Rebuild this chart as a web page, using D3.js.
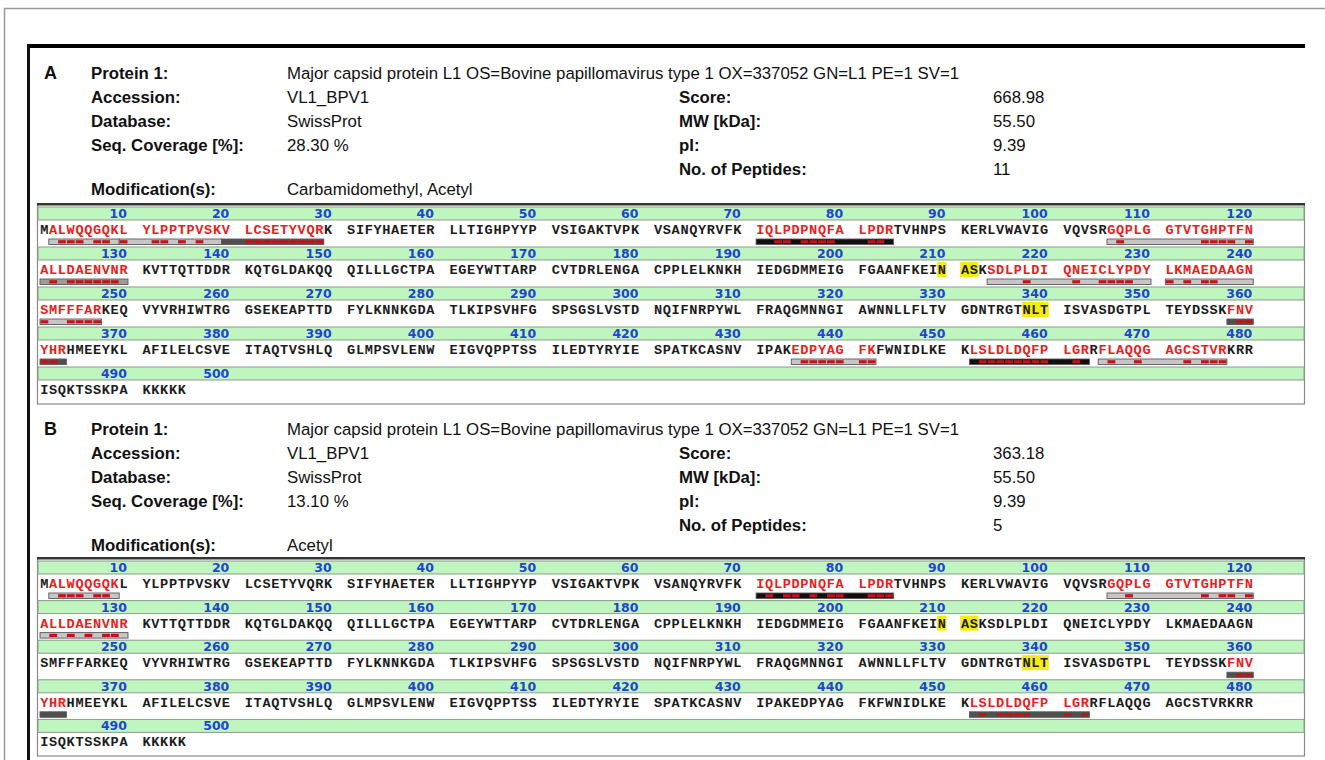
<!DOCTYPE html>
<html>
<head>
<meta charset="utf-8">
<script src="https://cdn.jsdelivr.net/npm/d3@7"></script>
<style>
  body { margin: 0; background: #fff; }
  svg { display: block; }
</style>
</head>
<body>
<script>
// sequence of the protein, in blocks of ten residues
var seqBlocks = [
  "MALWQQGQKL","YLPPTPVSKV","LCSETYVQRK","SIFYHAETER","LLTIGHPYYP","VSIGAKTVPK","VSANQYRVFK","IQLPDPNQFA","LPDRTVHNPS","KERLVWAVIG","VQVSRGQPLG","GTVTGHPTFN",
  "ALLDAENVNR","KVTTQTTDDR","KQTGLDAKQQ","QILLLGCTPA","EGEYWTTARP","CVTDRLENGA","CPPLELKNKH","IEDGDMMEIG","FGAANFKEIN","ASKSDLPLDI","QNEICLYPDY","LKMAEDAAGN",
  "SMFFFARKEQ","VYVRHIWTRG","GSEKEAPTTD","FYLKNNKGDA","TLKIPSVHFG","SPSGSLVSTD","NQIFNRPYWL","FRAQGMNNGI","AWNNLLFLTV","GDNTRGTNLT","ISVASDGTPL","TEYDSSKFNV",
  "YHRHMEEYKL","AFILELCSVE","ITAQTVSHLQ","GLMPSVLENW","EIGVQPPTSS","ILEDTYRYIE","SPATKCASNV","IPAKEDPYAG","FKFWNIDLKE","KLSLDLDQFP","LGRRFLAQQG","AGCSTVRKRR",
  "ISQKTSSKPA","KKKKK"
];
var sequence = seqBlocks.join("");
// position labels, one per block
var blockLabels = seqBlocks.map(function(b, k) { return (k + 1) * 10; });

// header values of the two panels
var panelNames = ["A", "B"];
var proteinName = "Major capsid protein L1 OS=Bovine papillomavirus type 1 OX=337052 GN=L1 PE=1 SV=1";
var accessions = ["VL1_BPV1", "VL1_BPV1"];
var databases = ["SwissProt", "SwissProt"];
var coverages = ["28.30 %", "13.10 %"];
var modifications = ["Carbamidomethyl, Acetyl", "Acetyl"];
var scores = ["668.98", "363.18"];
var weights = ["55.50", "55.50"];
var pIs = ["9.39", "9.39"];
var peptideCounts = ["11", "5"];

// highlighted motif residues (yellow)
var motifResidues = [210, 211, 212, 338, 339, 340];

// peptides found: [start, end, shade, residues with fragment marks]
var peptidesA = [
  [2, 9, "light", [3, 4, 5, 7, 8]],
  [10, 19, "light", [10, 12, 13, 15, 17]],
  [20, 29, "dark", [21, 22, 23, 24, 25, 26, 27, 28, 29]],
  [71, 84, "black", [73, 74, 76, 77, 78, 79, 82, 83]],
  [106, 120, "light", [107, 115, 116, 117, 118, 120]],
  [121, 130, "mid", [122, 124, 125, 126, 127, 128, 129]],
  [214, 230, "light", [218, 222, 225, 226, 227, 228]],
  [231, 240, "light", [231, 233, 235, 236]],
  [241, 247, "light", [241, 244, 245, 246, 247]],
  [358, 363, "dark", [359, 360, 361, 362]],
  [435, 442, "light", [436, 437, 438, 439, 440, 441, 442]],
  [452, 463, "black", [453, 454, 455, 456, 457, 458, 459, 460, 462]],
  [465, 477, "light", [466, 469, 473, 475, 476, 477]]
];
var peptidesB = [
  [2, 9, "light", [3, 4, 5, 7, 8]],
  [71, 84, "black", [72, 74, 75, 77, 79, 80, 82, 83, 84]],
  [106, 120, "light", [108, 115, 117, 118, 120]],
  [121, 130, "light", [122, 124, 126, 128, 129]],
  [358, 363, "dark", [359, 360]],
  [452, 463, "dark", [453, 455, 456, 457, 458, 461, 463]]
];

var shadeColor = { light: "#c6c6c6", mid: "#9c9c9c", dark: "#505050", black: "#101010" };

var width = 1325, height = 760;
var svg = d3.select("body").append("svg")
    .attr("width", width)
    .attr("height", height);

// figure frame
svg.append("rect").attr("x", 4.5).attr("y", 8.5).attr("width", 1330).attr("height", 760)
  .attr("fill", "none").attr("stroke", "#9a9a9a").attr("stroke-width", 1.5);
svg.append("rect").attr("x", 27).attr("y", 44).attr("width", 1278).attr("height", 4).attr("fill", "#000");
svg.append("rect").attr("x", 27).attr("y", 44).attr("width", 3).attr("height", 720).attr("fill", "#111");

var residuesPerRow = 120;
var nRows = Math.ceil(sequence.length / residuesPerRow);
var col = d3.scaleLinear().domain([0, 12]).range([40, 40 + 12 * 102.3]);
var charW = 8.8;

function resX(i) {
  var k = (i - 1) % residuesPerRow;
  return col(Math.floor(k / 10)) + (k % 10) * charW;
}
function resRow(i) { return Math.floor((i - 1) / residuesPerRow); }

function drawPanel(p, headTop, boxTop, pitch, peptides) {
  var g = svg.append("g");
  var lab = "'Liberation Sans', Arial, sans-serif";

  // header block
  var rowY = d3.scaleLinear().domain([0, 1]).range([headTop, headTop + 24]);
  g.append("text").attr("x", 44).attr("y", rowY(0)).text(panelNames[p])
    .attr("font-family", lab).attr("font-weight", "bold").attr("font-size", 18).attr("fill", "#111");

  var leftLabels = [["Protein 1:", proteinName, 0], ["Accession:", accessions[p], 1], ["Database:", databases[p], 2],
    ["Seq. Coverage [%]:", coverages[p], 3], ["Modification(s):", modifications[p], 4.85]];
  var rightLabels = [["Score:", scores[p], 1], ["MW [kDa]:", weights[p], 2], ["pI:", pIs[p], 3], ["No. of Peptides:", peptideCounts[p], 4]];

  leftLabels.forEach(function(d) {
    g.append("text").attr("x", 91).attr("y", rowY(d[2])).text(d[0])
      .attr("font-family", lab).attr("font-weight", "bold").attr("font-size", 16.8).attr("fill", "#111");
    g.append("text").attr("x", 287).attr("y", rowY(d[2])).text(d[1])
      .attr("font-family", lab).attr("font-size", 16.8).attr("fill", "#111");
  });
  rightLabels.forEach(function(d) {
    g.append("text").attr("x", 679).attr("y", rowY(d[2])).text(d[0])
      .attr("font-family", lab).attr("font-weight", "bold").attr("font-size", 16.8).attr("fill", "#111");
    g.append("text").attr("x", 993).attr("y", rowY(d[2])).text(d[1])
      .attr("font-family", lab).attr("font-size", 16.8).attr("fill", "#111");
  });

  // sequence box
  var y = d3.scaleLinear().domain([0, 1]).range([boxTop + 3, boxTop + 3 + pitch]);
  var boxBottom = Math.min(y(nRows) - 3, height + 5);
  g.append("rect").attr("x", 37.5).attr("y", boxTop).attr("width", 1267).attr("height", boxBottom - boxTop)
    .attr("fill", "#fff").attr("stroke", "#8a8a8a").attr("stroke-width", 1.2);
  g.append("rect").attr("x", 37).attr("y", boxTop - 1).attr("width", 1268).attr("height", 2.5).attr("fill", "#333");

  var rows = d3.range(nRows);
  g.selectAll(".hdr").data(rows).enter().append("rect")
    .attr("x", 38).attr("y", function(r) { return y(r); })
    .attr("width", 1266).attr("height", 13)
    .attr("fill", "#bff5bf").attr("stroke", "#8f9a8f").attr("stroke-width", 1);

  // position numbers
  g.selectAll(".num").data(blockLabels).enter().append("text")
    .attr("x", function(n) { return resX(n - 9) + 87; })
    .attr("y", function(n) { return y(resRow(n - 9)) + 11; })
    .attr("text-anchor", "end")
    .attr("font-family", "'DejaVu Sans', Verdana, sans-serif").attr("font-weight", "bold").attr("font-size", 12.5)
    .attr("fill", "#2244d0")
    .text(function(n) { return n; });

  var covered = new Set();
  peptides.forEach(function(pp) { d3.range(pp[0], pp[1] + 1).forEach(function(i) { covered.add(i); }); });

  // yellow motifs
  g.selectAll(".motif").data(motifResidues).enter().append("rect")
    .attr("x", function(i) { return resX(i) - 0.5; })
    .attr("y", function(i) { return y(resRow(i)) + 15; })
    .attr("width", charW + 0.6).attr("height", 15)
    .attr("fill", "#f4ec10");

  // residues
  var residues = sequence.split("").map(function(c, k) { return { c: c, i: k + 1 }; });
  g.selectAll(".res").data(residues).enter().append("text")
    .attr("x", function(d) { return resX(d.i) + 0.2; })
    .attr("y", function(d) { return y(resRow(d.i)) + 27; })
    .attr("font-family", "'Liberation Mono', 'Courier New', monospace").attr("font-weight", "bold").attr("font-size", 13.6)
    .attr("fill", function(d) { return covered.has(d.i) ? "#e8201e" : "#1c1c1c"; })
    .text(function(d) { return d.c; });

  // peptide bars, split at row ends
  var segs = [];
  peptides.forEach(function(pp) {
    var s = pp[0];
    while (s <= pp[1]) {
      var e = Math.min(pp[1], (resRow(s) + 1) * residuesPerRow);
      segs.push({ s: s, e: e, shade: pp[2] });
      s = e + 1;
    }
  });
  g.selectAll(".bar").data(segs).enter().append("rect")
    .attr("x", function(d) { return resX(d.s); })
    .attr("y", function(d) { return y(resRow(d.s)) + 32; })
    .attr("width", function(d) { return resX(d.e) + charW - resX(d.s); })
    .attr("height", 5.5)
    .attr("fill", function(d) { return shadeColor[d.shade]; })
    .attr("stroke", "#5a5a5a").attr("stroke-width", 0.9);

  var marks = [];
  peptides.forEach(function(pp) { pp[3].forEach(function(i) { marks.push(i); }); });
  g.selectAll(".mark").data(marks).enter().append("rect")
    .attr("x", function(i) { return resX(i) + 0.5; })
    .attr("y", function(i) { return y(resRow(i)) + 33.2; })
    .attr("width", charW - 1).attr("height", 3.2)
    .attr("fill", "#c8101a");
}

drawPanel(0, 79, 204, 40, peptidesA);
drawPanel(1, 435, 558, 39.6, peptidesB);
</script>
</body>
</html>
